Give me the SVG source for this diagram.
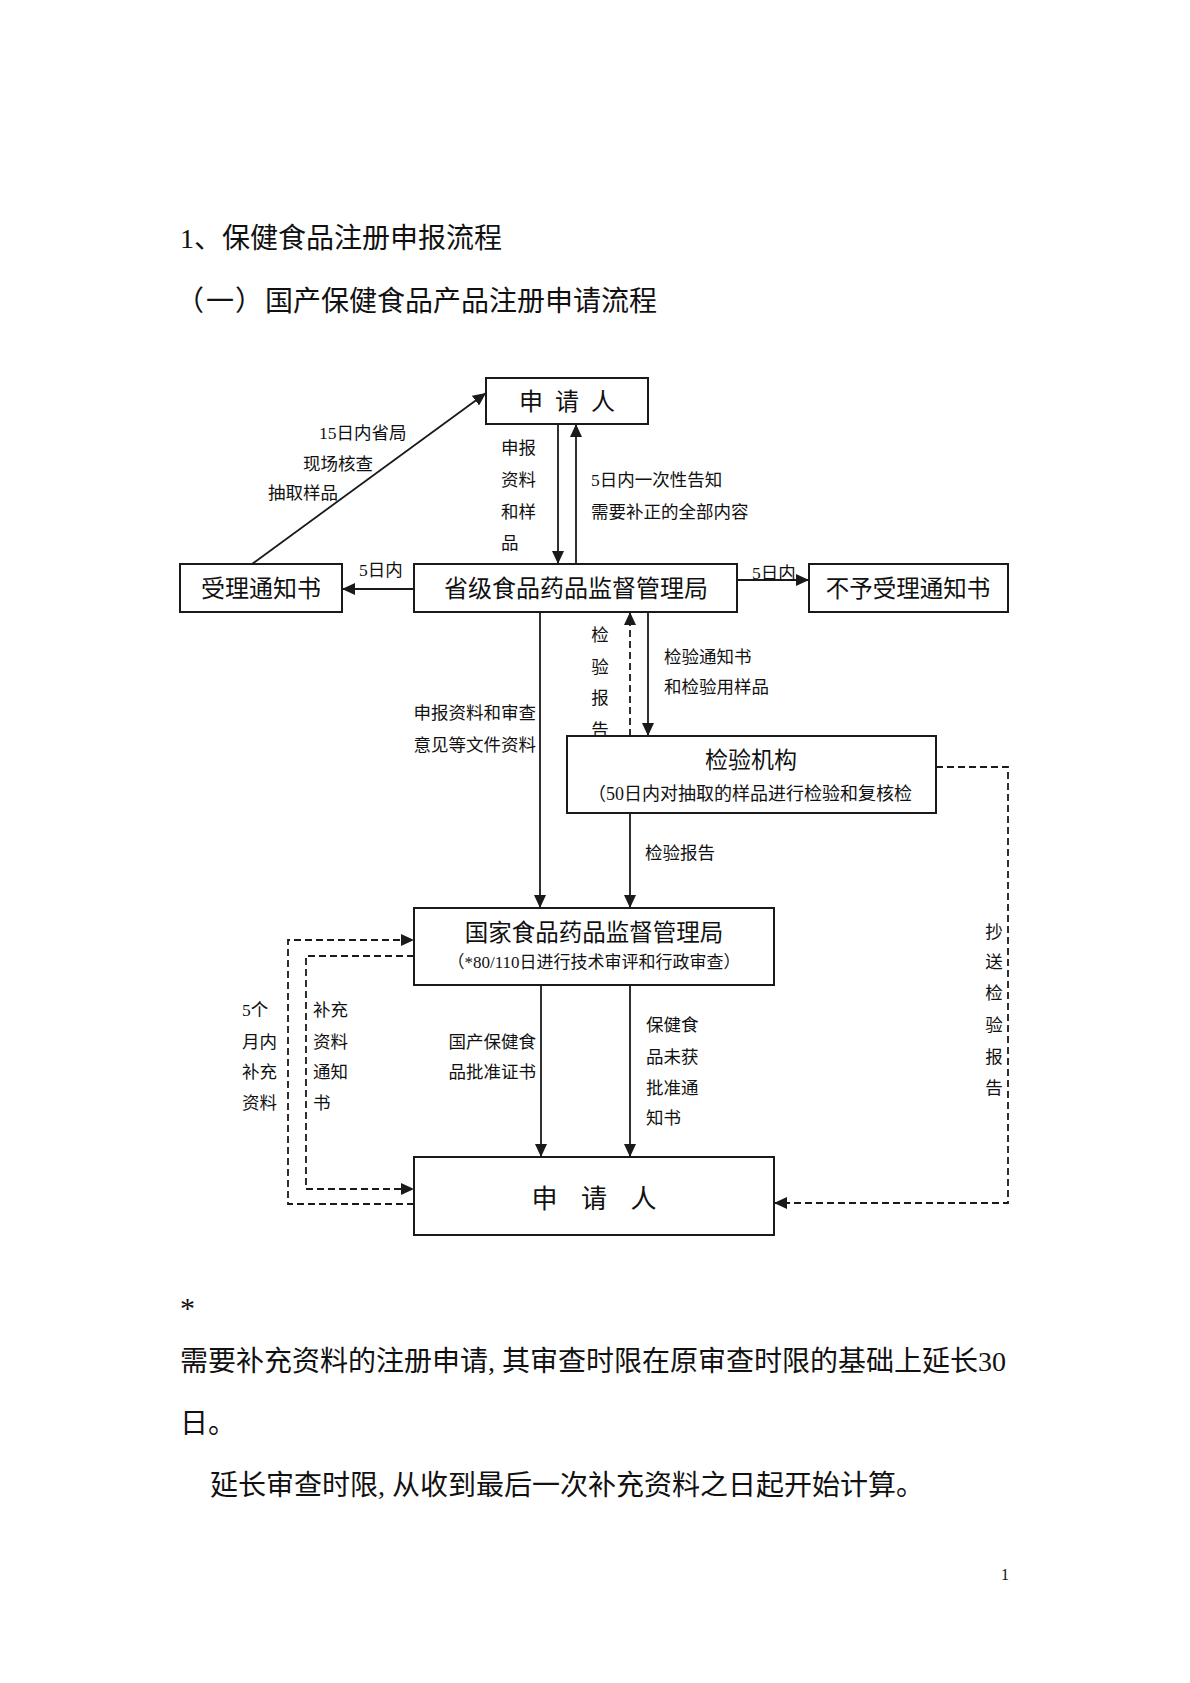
<svg xmlns="http://www.w3.org/2000/svg" width="1190" height="1683" viewBox="0 0 1190 1683">
<style>
text{font-family:"Liberation Serif","Noto Sans CJK SC",serif;fill:#111;}
.h1{font-size:28px;}
.h2{font-size:28px;}
.body{font-size:28px;}
.lbl{font-size:17.5px;}
.lblc{font-size:17.5px;text-anchor:middle;}
.lble{font-size:17.5px;text-anchor:end;}
.nt{font-size:24px;text-anchor:middle;}
.ns{font-size:17.5px;text-anchor:middle;}
.box{fill:#fff;stroke:#1a1a1a;stroke-width:2;}
.ln{fill:none;stroke:#1a1a1a;stroke-width:1.8;marker-end:url(#ah);}
.dl{fill:none;stroke:#1a1a1a;stroke-width:1.8;stroke-dasharray:7 4;marker-end:url(#ah);}
</style>
<defs>
<marker id="ah" markerUnits="userSpaceOnUse" markerWidth="14" markerHeight="12" viewBox="0 0 14 12" refX="13" refY="6" orient="auto">
<path d="M0,0 L13,6 L0,12 Z" fill="#1a1a1a"/>
</marker>
</defs>
<rect width="1190" height="1683" fill="#fff"/>
<text class="h1" x="180" y="248">1、保健食品注册申报流程</text>
<text class="h2" y="311"><tspan x="176">（</tspan><tspan x="206">一</tspan><tspan x="235">）</tspan><tspan x="265">国产保健食品产品注册申请流程</tspan></text>

<g id="connectors">
<line class="ln" x1="252" y1="564" x2="486" y2="393"/>
<line class="ln" x1="558" y1="424" x2="558" y2="564"/>
<line class="ln" x1="576" y1="564" x2="576" y2="424"/>
<line class="ln" x1="414" y1="589" x2="342" y2="589"/>
<line class="ln" x1="737" y1="580" x2="809" y2="580"/>
<line class="ln" x1="540" y1="612" x2="540" y2="908"/>
<line class="dl" x1="630" y1="736" x2="630" y2="612"/>
<line class="ln" x1="648" y1="612" x2="648" y2="736"/>
<line class="ln" x1="630" y1="813" x2="630" y2="908"/>
<polyline class="dl" points="936,767 1008,767 1008,1203 774,1203"/>
<line class="ln" x1="541" y1="985" x2="541" y2="1157"/>
<line class="ln" x1="630" y1="985" x2="630" y2="1157"/>
<polyline class="dl" points="414,1204 288,1204 288,940 414,940"/>
<polyline class="dl" points="414,956 306,956 306,1189 414,1189"/>
</g>

<g id="labels">
<text class="lbl" x="319" y="439">15日内省局</text>
<text class="lbl" x="303" y="470">现场核查</text>
<text class="lbl" x="268" y="499">抽取样品</text>
<text class="lbl" x="501" y="454">申报</text>
<text class="lbl" x="501" y="486">资料</text>
<text class="lbl" x="501" y="518">和样</text>
<text class="lbl" x="501" y="549">品</text>
<text class="lbl" x="591" y="486">5日内一次性告知</text>
<text class="lbl" x="591" y="518">需要补正的全部内容</text>
<text class="lbl" x="359" y="576">5日内</text>
<text class="lbl" x="752" y="579">5日内</text>
<text class="lblc" x="600" y="641">检</text>
<text class="lblc" x="600" y="673">验</text>
<text class="lblc" x="600" y="704">报</text>
<text class="lblc" x="600" y="736">告</text>
<text class="lbl" x="664" y="663">检验通知书</text>
<text class="lbl" x="664" y="693">和检验用样品</text>
<text class="lble" x="536" y="719">申报资料和审查</text>
<text class="lble" x="536" y="751">意见等文件资料</text>
<text class="lbl" x="645" y="859">检验报告</text>
<text class="lblc" x="994" y="938">抄</text>
<text class="lblc" x="994" y="968">送</text>
<text class="lblc" x="994" y="999">检</text>
<text class="lblc" x="994" y="1031">验</text>
<text class="lblc" x="994" y="1063">报</text>
<text class="lblc" x="994" y="1094">告</text>
<text class="lbl" x="242" y="1016">5个</text>
<text class="lbl" x="242" y="1048">月内</text>
<text class="lbl" x="242" y="1078">补充</text>
<text class="lbl" x="242" y="1109">资料</text>
<text class="lbl" x="313" y="1016">补充</text>
<text class="lbl" x="313" y="1048">资料</text>
<text class="lbl" x="313" y="1078">通知</text>
<text class="lbl" x="313" y="1109">书</text>
<text class="lble" x="536" y="1048">国产保健食</text>
<text class="lble" x="536" y="1078">品批准证书</text>
<text class="lbl" x="646" y="1031">保健食</text>
<text class="lbl" x="646" y="1063">品未获</text>
<text class="lbl" x="646" y="1094">批准通</text>
<text class="lbl" x="646" y="1124">知书</text>
</g>

<g id="node-applicant-top">
<rect class="box" x="486" y="378" width="162" height="46"/>
<text class="nt" x="567" y="410" word-spacing="6">申 请 人</text>
</g>
<g id="node-accept-notice">
<rect class="box" x="180" y="564" width="162" height="48"/>
<text class="nt" x="261" y="597">受理通知书</text>
</g>
<g id="node-provincial">
<rect class="box" x="414" y="564" width="323" height="48"/>
<text class="nt" x="576" y="597">省级食品药品监督管理局</text>
</g>
<g id="node-reject-notice">
<rect class="box" x="809" y="564" width="199" height="48"/>
<text class="nt" x="908" y="597" style="font-size:23.5px">不予受理通知书</text>
</g>
<g id="node-inspection">
<rect class="box" x="567" y="736" width="369" height="77"/>
<text class="nt" x="751" y="768" style="font-size:23px">检验机构</text>
<text x="588" y="800" style="font-size:18px">（50日内对抽取的样品进行检验和复核检</text>
</g>
<g id="node-national">
<rect class="box" x="414" y="908" width="360" height="77"/>
<text class="nt" x="594" y="941" style="font-size:23.5px">国家食品药品监督管理局</text>
<text class="ns" x="594" y="968" style="font-size:17px">（*80/110日进行技术审评和行政审查）</text>
</g>
<g id="node-applicant-bottom">
<rect class="box" x="414" y="1157" width="360" height="78"/>
<text class="nt" x="594" y="1208" style="font-size:26px" word-spacing="17">申 请 人</text>
</g>

<text class="body" x="180" y="1318" style="font-size:30px">*</text>
<text class="body" x="180" y="1371">需要补充资料的注册申请, 其审查时限在原审查时限的基础上延长30</text>
<text class="body" x="180" y="1433">日。</text>
<text class="body" x="210" y="1495">延长审查时限, 从收到最后一次补充资料之日起开始计算。</text>
<text x="1005" y="1580" style="font-size:16px;text-anchor:middle">1</text>
</svg>
